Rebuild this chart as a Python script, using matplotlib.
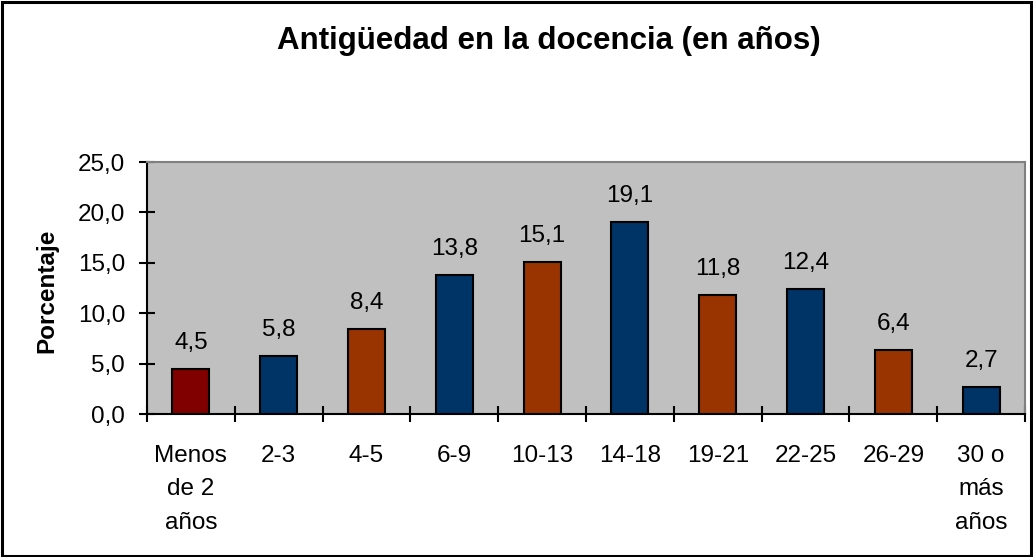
import matplotlib
matplotlib.use("Agg")
import matplotlib.pyplot as plt
from matplotlib.patches import Rectangle

categories = ["Menos\nde 2\naños", "2-3", "4-5", "6-9", "10-13", "14-18",
              "19-21", "22-25", "26-29", "30 o\nmás\naños"]
values = [4.5, 5.8, 8.4, 13.8, 15.1, 19.1, 11.8, 12.4, 6.4, 2.7]
bar_colors = ["#800000", "#003366", "#993300", "#003366", "#993300",
              "#003366", "#993300", "#003366", "#993300", "#003366"]
yticks = [0, 5, 10, 15, 20, 25]
ytick_labels = ["0,0", "5,0", "10,0", "15,0", "20,0", "25,0"]

plt.rcParams['font.family'] = ['Liberation Sans', 'DejaVu Sans']
FS = 17.5

fig = plt.figure(figsize=(10.33, 5.57), dpi=100)
fig.patches.append(Rectangle((0.0015, 0.002), 0.997, 0.995, transform=fig.transFigure,
                             fill=False, edgecolor="black", linewidth=2.2))

ax = fig.add_axes([0.1423, 0.2567, 0.8500, 0.4523])
ax.set_facecolor("#C0C0C0")

x = list(range(len(values)))
ax.bar(x, values, width=0.42, color=bar_colors, edgecolor="black", linewidth=1.5, zorder=3)

for xi, v in zip(x, values):
    ax.annotate(f"{v:.1f}".replace(".", ","), (xi, v), xytext=(0, 14.4),
                textcoords="offset points", ha="center", va="baseline", fontsize=FS)

ax.set_xlim(-0.5, len(values) - 0.5)
ax.set_ylim(0, 25)
ax.set_yticks(yticks)
ax.set_yticklabels(ytick_labels, fontsize=FS)

ax.set_xticks([i + 0.5 for i in range(-1, len(values))], minor=False)
ax.set_xticklabels([""] * (len(values) + 1))
ax.set_xticks(x, minor=True)
ax.set_xticklabels(categories, minor=True, fontsize=FS, linespacing=1.68, va="top", ha="center")
ax.tick_params(axis="x", which="major", direction="inout", length=11.5, width=1.5)
ax.tick_params(axis="x", which="minor", length=0, pad=22)
ax.tick_params(axis="y", direction="inout", length=11.5, width=1.5, pad=10)

for s in ["left", "bottom"]:
    ax.spines[s].set_linewidth(1.5)
    ax.spines[s].set_color("black")
for s in ["top", "right"]:
    ax.spines[s].set_linewidth(1.5)
    ax.spines[s].set_color("#808080")

fig.text(0.0455, 0.4775, "Porcentaje", rotation=90, ha="center", va="center",
         fontsize=FS, fontweight="bold")
fig.text(0.531, 0.912, "Antigüedad en la docencia (en años)", ha="center", va="baseline",
         fontsize=22.5, fontweight="bold")

fig.savefig("out.png", dpi=100)
